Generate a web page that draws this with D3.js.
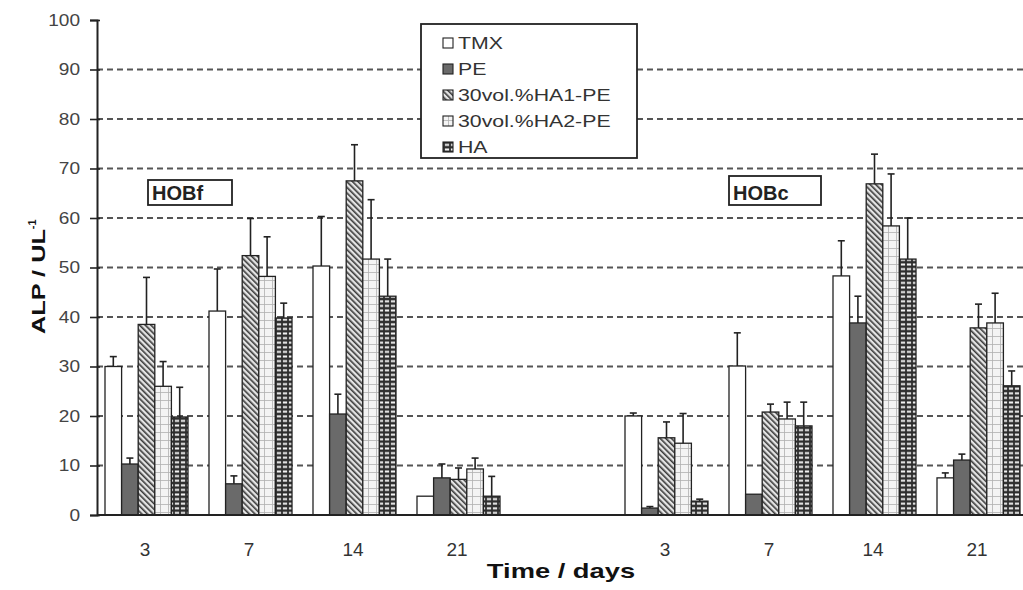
<!DOCTYPE html>
<html><head><meta charset="utf-8">
<script src="https://cdn.jsdelivr.net/npm/d3@7/dist/d3.min.js"></script>
<style>body{margin:0;background:#fff}svg{display:block;font-family:"Liberation Sans",Arial,sans-serif}</style>
</head><body><svg id="c" width="1023" height="590"></svg>
<script>
// ---- data ----
const days = ["3","7","14","21","3","7","14","21"];
const cells = ["HOBf","HOBf","HOBf","HOBf","HOBc","HOBc","HOBc","HOBc"];
const seriesNames = ["TMX","PE","30vol.%HA1-PE","30vol.%HA2-PE","HA"];
const tmx    = [30.0, 41.2, 50.3, 3.8, 20.0, 30.1, 48.3, 7.5];
const tmxErr = [2.0, 8.5, 10.0, 0.0, 0.6, 6.7, 7.1, 1.0];
const pe     = [10.3, 6.3, 20.4, 7.5, 1.4, 4.2, 38.8, 11.1];
const peErr  = [1.2, 1.6, 4.0, 2.8, 0.3, 0.0, 5.4, 1.2];
const ha1    = [38.5, 52.4, 67.5, 7.2, 15.6, 20.8, 66.9, 37.8];
const ha1Err = [9.5, 7.5, 7.3, 2.3, 3.2, 1.6, 6.0, 4.8];
const ha2    = [26.0, 48.2, 51.7, 9.3, 14.5, 19.4, 58.4, 38.8];
const ha2Err = [5.0, 8.0, 12.0, 2.2, 6.0, 3.4, 10.5, 6.0];
const ha     = [19.8, 39.8, 44.2, 3.8, 2.8, 18.0, 51.7, 26.1];
const haErr  = [6.0, 3.0, 7.5, 4.0, 0.4, 4.8, 8.3, 3.0];
const yTicks = [0,10,20,30,40,50,60,70,80,90,100];
const cellLabels = ["HOBf","HOBc"];

const values = [tmx, pe, ha1, ha2, ha];
const errors = [tmxErr, peErr, ha1Err, ha2Err, haErr];

// ---- layout ----
const svg = d3.select("#c");
const X0 = 97, X1 = 1033, Y0 = 515, Y1 = 20;
const keys = days.map((d,i)=>cells[i]+"-"+d);
const slotKeys = [...keys.slice(0,4), "gap", ...keys.slice(4)];
const x0 = d3.scaleBand().domain(slotKeys).range([X0, X1]).padding(0);
const x1 = d3.scaleBand().domain(seriesNames).range([8, 91]).padding(0);
const y = d3.scaleLinear().domain([0,100]).range([Y0, Y1]);

function stretch(sel, k){
  sel.each(function(){
    const w = this.getComputedTextLength();
    d3.select(this).attr("textLength", w*k).attr("lengthAdjust","spacingAndGlyphs");
  });
}

// ---- patterns ----
const defs = svg.append("defs");
const pHatch = defs.append("pattern").attr("id","p-ha1").attr("patternUnits","userSpaceOnUse")
  .attr("width",4).attr("height",4).attr("patternTransform","rotate(-45)");
pHatch.append("rect").attr("width",4).attr("height",4).attr("fill","#e4e4e4");
pHatch.append("rect").attr("width",1.6).attr("height",4).attr("fill","#3a3a3a");

const pGrid = defs.append("pattern").attr("id","p-ha2").attr("patternUnits","userSpaceOnUse")
  .attr("width",8).attr("height",8);
pGrid.append("rect").attr("width",8).attr("height",8).attr("fill","#f4f4f4");
pGrid.append("path").attr("d","M0,0.5H8M0.5,0V8").attr("stroke","#b0b0b0").attr("stroke-width",0.8);

const pBrick = defs.append("pattern").attr("id","p-ha").attr("patternUnits","userSpaceOnUse")
  .attr("width",6).attr("height",4.6);
pBrick.append("rect").attr("width",6).attr("height",4.6).attr("fill","#2e2e2e");
pBrick.append("rect").attr("x",0.9).attr("y",1.3).attr("width",4.2).attr("height",2).attr("fill","#f2f2f2");

const fills = ["#ffffff","#6a6a6a","url(#p-ha1)","url(#p-ha2)","url(#p-ha)"];

// ---- gridlines ----
svg.append("g").selectAll("line").data(yTicks.filter(t=>t>0 && t<100)).join("line")
  .attr("x1",X0).attr("x2",1023).attr("y1",d=>y(d)).attr("y2",d=>y(d))
  .attr("stroke","#555").attr("stroke-width",1.8).attr("stroke-dasharray","6,4");

// ---- bars ----
const barData = [];
keys.forEach((k,i)=>{
  seriesNames.forEach((s,j)=>{
    barData.push({k, s, j, v: values[j][i], e: errors[j][i]});
  });
});
const gb = svg.append("g");
gb.selectAll("rect").data(barData).join("rect")
  .attr("x", d=>x0(d.k)+x1(d.s))
  .attr("y", d=>y(d.v))
  .attr("width", x1.bandwidth())
  .attr("height", d=>y(0)-y(d.v))
  .attr("fill", d=>fills[d.j])
  .attr("stroke","#222").attr("stroke-width",1.3);

// ---- error bars (upper only) ----
const ge = svg.append("g").attr("stroke","#222").attr("stroke-width",1.6);
barData.filter(d=>d.e>0).forEach(d=>{
  const cx = x0(d.k)+x1(d.s)+x1.bandwidth()/2;
  ge.append("line").attr("x1",cx).attr("x2",cx).attr("y1",y(d.v)).attr("y2",y(d.v+d.e));
  ge.append("line").attr("x1",cx-3.5).attr("x2",cx+3.5).attr("y1",y(d.v+d.e)).attr("y2",y(d.v+d.e));
});

// ---- axes ----
const ya = svg.append("g").attr("transform",`translate(${X0},0)`)
  .call(d3.axisLeft(y).tickValues(yTicks).tickSize(7).tickPadding(10));
ya.select(".domain").attr("stroke","#222").attr("stroke-width",2);
ya.selectAll(".tick line").attr("x1",3).attr("x2",-7).attr("stroke","#222").attr("stroke-width",1.6);
ya.selectAll(".tick text").attr("font-size",17).attr("fill","#444").attr("font-family","Liberation Sans, Arial, sans-serif");
stretch(ya.selectAll(".tick text"), 1.12);

svg.append("line").attr("x1",X0).attr("x2",1023).attr("y1",Y0).attr("y2",Y0)
  .attr("stroke","#222").attr("stroke-width",2.2);

const tickLabel = {}; slotKeys.forEach(k=>{ tickLabel[k] = k==="gap" ? "" : k.split("-")[1]; });
const xa = svg.append("g").attr("transform",`translate(-4,${Y0})`)
  .call(d3.axisBottom(x0).tickSize(0).tickPadding(28).tickFormat(k=>tickLabel[k]));
xa.select(".domain").remove();
xa.selectAll(".tick text").attr("font-size",19).attr("fill","#333").attr("font-family","Liberation Sans, Arial, sans-serif");

// ---- titles ----
const xt = svg.append("text").attr("x",561).attr("y",578).attr("text-anchor","middle")
  .attr("font-size",21).attr("font-weight","bold").attr("fill","#111").text("Time / days");
stretch(xt, 1.3);

const yt = svg.append("text").attr("transform","translate(45,334) rotate(-90)")
  .attr("font-weight","bold").attr("fill","#111");
const ytMain = yt.append("tspan").attr("font-size",19).text("ALP / UL");
stretch(ytMain, 1.33);
yt.append("tspan").attr("font-size",11).attr("dy",-9).text("-1");

// ---- cell labels ----
const boxes = [{t:cellLabels[0], x:148, y:180, w:84, h:25},{t:cellLabels[1], x:729, y:176, w:92, h:29}];
boxes.forEach(b=>{
  svg.append("rect").attr("x",b.x).attr("y",b.y).attr("width",b.w).attr("height",b.h)
    .attr("fill","#fff").attr("stroke","#222").attr("stroke-width",1.8);
  svg.append("text").attr("x",b.x+4).attr("y",b.y+b.h-5).attr("font-size",20)
    .attr("font-weight","bold").attr("fill","#222").text(b.t);
});

// ---- legend ----
const lg = svg.append("g");
lg.append("rect").attr("x",421).attr("y",24).attr("width",216).attr("height",134)
  .attr("fill","#fff").attr("stroke","#222").attr("stroke-width",1.8);
seriesNames.forEach((s,j)=>{
  const cy = 43 + j*26;
  lg.append("rect").attr("x",443).attr("y",cy-5).attr("width",10).attr("height",10)
    .attr("fill",fills[j]).attr("stroke","#222").attr("stroke-width",1.1);
  const t = lg.append("text").attr("x",458).attr("y",cy+6).attr("font-size",16)
    .attr("fill","#333").text(s);
  stretch(t, 1.33);
});
</script></body></html>
